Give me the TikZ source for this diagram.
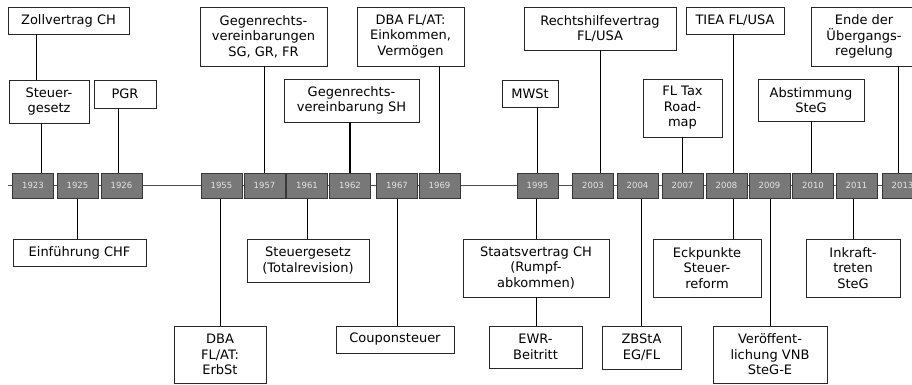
\documentclass[tikz,border=0pt]{standalone}
\usepackage{fontspec}
\setmainfont{DejaVu Sans}
\usetikzlibrary{positioning}

\begin{document}
\begin{tikzpicture}[x=1pt,y=-1pt,
		year/.style={draw=black!78,fill=black!53,text=black!10,font=\fontsize{8.5}{9}\selectfont,
			minimum width=41pt,minimum height=25pt,inner sep=0pt,line width=1pt},
		event/.style={draw=black!85,fill=white,align=center,font=\fontsize{13}{15.5}\selectfont,
			inner sep=0pt,line width=0.9pt},
		link/.style={line width=0.9pt},
		timeline/.style={line width=1pt,black!70}]
	\useasboundingbox (0,0) rectangle (912,385);
	\clip (0,0) rectangle (912,385);

	% years on the time axis
	\foreach \yr/\xx in {1923/33,1925/77.5,1926/121.5,1955/221.5,1957/264.5,1961/307,1962/350,
		1967/397,1969/439.5,1995/537.5,2003/593,2004/637.5,2007/682.5,2008/726.5,2009/769.5,
		2010/813,2011/856.5,2013/902.5}
		\node[year] (y\yr) at (\xx,185.5) {\yr};
	\coordinate (tstart) at (8,185.5);
	\coordinate (tend) at (912,185.5);

	% events above the axis
	\node[event,minimum width=121pt,minimum height=27pt] (zoll) at (68.5,20.5) {Zollvertrag CH};
	\node[event,minimum width=80pt,minimum height=43pt] (steuer) at (49,101.5) {Steuer-\\gesetz};
	\node[event,minimum width=62pt,minimum height=28pt] (pgr) at (125,94) {PGR};
	\node[event,minimum width=127pt,minimum height=59pt] (gegsg) at (263.5,36.5) {Gegenrechts-\\vereinbarungen\\SG, GR, FR};
	\node[event,minimum width=135pt,minimum height=43pt] (gegsh) at (351.5,100.5) {Gegenrechts-\\vereinbarung SH};
	\node[event,minimum width=107pt,minimum height=59pt] (dbaeink) at (410.5,36.5) {DBA FL/AT:\\Einkommen,\\Vermögen};
	\node[event,minimum width=56pt,minimum height=27pt] (mwst) at (530,93.5) {MWSt};
	\node[event,minimum width=152pt,minimum height=43pt] (rechts) at (600,28.5) {Rechtshilfevertrag\\FL/USA};
	\node[event,minimum width=79pt,minimum height=58pt] (fltax) at (682.5,108) {FL Tax\\Road-\\map};
	\node[event,minimum width=98pt,minimum height=27pt] (tiea) at (735,20.5) {TIEA FL/USA};
	\node[event,minimum width=106pt,minimum height=42pt] (abst) at (811,100) {Abstimmung\\SteG};
	\node[event,minimum width=106pt,minimum height=59pt] (ende) at (864,36.5) {Ende der\\Übergangs-\\regelung};

	% events below the axis
	\node[event,minimum width=133pt,minimum height=27pt] (einf) at (79.5,252.5) {Einführung CHF};
	\node[event,minimum width=92pt,minimum height=57pt] (dbaerb) at (220,354.5) {DBA\\FL/AT:\\ErbSt};
	\node[event,minimum width=122pt,minimum height=43pt] (steuertot) at (308,260.5) {Steuergesetz\\(Totalrevision)};
	\node[event,minimum width=118pt,minimum height=27pt] (coupon) at (395,339.5) {Couponsteuer};
	\node[event,minimum width=146pt,minimum height=58pt] (staats) at (536,268) {Staatsvertrag CH\\(Rumpf-\\abkommen)};
	\node[event,minimum width=93pt,minimum height=42pt] (ewr) at (535.5,347) {EWR-\\Beitritt};
	\node[event,minimum width=79pt,minimum height=43pt] (zbsta) at (641.5,347.5) {ZBStA\\EG/FL};
	\node[event,minimum width=108pt,minimum height=58pt] (eck) at (707,268) {Eckpunkte\\Steuer-\\reform};
	\node[event,minimum width=114pt,minimum height=57pt] (veroeff) at (770,354.5) {Veröffent-\\lichung VNB\\SteG-E};
	\node[event,minimum width=94pt,minimum height=58pt] (inkraft) at (853,268) {Inkraft-\\treten\\SteG};

	% time axis
	\draw[timeline] (tstart) -- (y1923) -- (y1925) -- (y1926) -- (y1955) -- (y1957) -- (y1961)
		-- (y1962) -- (y1967) -- (y1969) -- (y1995) -- (y2003) -- (y2004) -- (y2007) -- (y2008)
		-- (y2009) -- (y2010) -- (y2011) -- (y2013) -- (tend);

	% links above
	\draw[link] (zoll.south -| 36,0) -- (steuer.north -| 36,0);
	\draw[link] (steuer.south -| 41,0) -- (y1923.north -| 41,0);
	\draw[link] (pgr.south -| 118,0) -- (y1926.north -| 118,0);
	\draw[link] (gegsg.south -| y1957) -- (y1957.north);
	\draw[link,line width=1.6pt] (gegsh.south -| y1962) -- (y1962.north);
	\draw[link] (dbaeink.south -| y1969) -- (y1969.north);
	\draw[link] (mwst.south -| y1995) -- (y1995.north);
	\draw[link] (rechts.south) -- (rechts.south |- y2003.north);
	\draw[link] (fltax.south) -- (y2007.north);
	\draw[link] (tiea.south -| 733,0) -- (y2008.north -| 733,0);
	\draw[link] (abst.south) -- (abst.south |- y2010.north);
	\draw[link] (ende.south -| 898,0) -- (y2013.north -| 898,0);

	% links below
	\draw[link] (y1925.south) -- (y1925.south |- einf.north);
	\draw[link] (y1955.south -| dbaerb) -- (dbaerb.north);
	\draw[link] (y1961.south) -- (y1961.south |- steuertot.north);
	\draw[link] (y1967.south) -- (y1967.south |- coupon.north);
	\draw[link] (y1995.south -| staats) -- (staats.north);
	\draw[link] (staats.south) -- (staats.south |- ewr.north);
	\draw[link] (y2004.south -| zbsta) -- (zbsta.north);
	\draw[link] (y2008.south -| 733,0) -- (eck.north -| 733,0);
	\draw[link] (y2009.south -| veroeff) -- (veroeff.north);
	\draw[link] (y2011.south -| inkraft) -- (inkraft.north);
\end{tikzpicture}
\end{document}
